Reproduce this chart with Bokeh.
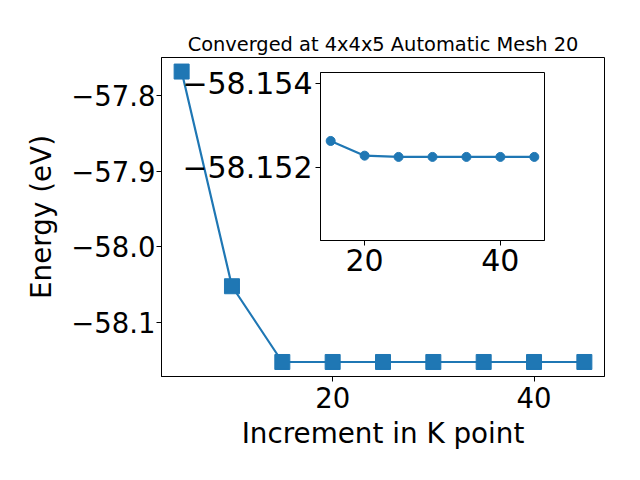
from bokeh.plotting import figure
from bokeh.models import Range1d, FixedTicker, Column
from bokeh.embed import file_html
from bokeh.resources import INLINE

# ---- data ----
kpoints = [5, 10, 15, 20, 25, 30, 35, 40, 45]
energy = [-57.768, -58.052, -58.1522, -58.1522, -58.1522, -58.1522, -58.1522, -58.1522, -58.1522]

inset_k = [15, 20, 25, 30, 35, 40, 45]
inset_energy = [-58.15262, -58.15227, -58.15224, -58.15224, -58.15224, -58.15224, -58.15224]

main_yticks = [-57.8, -57.9, -58.0, -58.1]
main_ytick_labels = ["\u221257.8", "\u221257.9", "\u221258.0", "\u221258.1"]
main_xticks = [20, 40]
inset_yticks = [-58.154, -58.152]
inset_ytick_labels = ["\u221258.154", "\u221258.152"]
inset_xticks = [20, 40]

title_text = "Converged at 4x4x5 Automatic Mesh 20"
xlabel = "Increment in K point"
ylabel = "Energy (eV)"

BLUE = "#1f77b4"
FONT = "DejaVu Sans"
LABEL_SIZE = "27.8px"


def style_axes(fig, tick_size):
    for ax in fig.xaxis + fig.yaxis:
        ax.major_label_text_font = FONT
        ax.major_label_text_font_size = tick_size
        ax.major_label_text_color = "black"
        ax.axis_label_text_font = FONT
        ax.axis_label_text_font_size = LABEL_SIZE
        ax.axis_label_text_font_style = "normal"
        ax.axis_label_text_color = "black"
        ax.major_tick_in = 0
        ax.major_tick_out = 5
        ax.minor_tick_in = 0
        ax.minor_tick_out = 0
        ax.major_tick_line_color = "black"
        ax.axis_line_color = "black"
        ax.major_label_standoff = 5
    fig.xgrid.visible = False
    fig.ygrid.visible = False
    fig.outline_line_color = "black"
    fig.outline_line_width = 1


# ---- main figure ----
p = figure(frame_width=443, frame_height=319, output_backend="svg", toolbar_location=None,
           x_range=Range1d(3, 47), y_range=Range1d(-58.1714, -57.7494),
           min_border_left=161, min_border_right=20, min_border_top=57, min_border_bottom=88)
p.line(kpoints, energy, line_color=BLUE, line_width=2.2)
p.scatter(kpoints, energy, marker="square", size=15, fill_color=BLUE, line_color=BLUE)
style_axes(p, "27.5px")
p.yaxis.ticker = FixedTicker(ticks=main_yticks)
p.yaxis.major_label_overrides = dict(zip(main_yticks, main_ytick_labels))
p.yaxis.major_label_standoff = 1
p.xaxis.ticker = FixedTicker(ticks=main_xticks)
p.xaxis.axis_label = xlabel
p.yaxis.axis_label = ylabel
p.yaxis.axis_label_standoff = 10
p.xaxis.axis_label_standoff = 6
p.title.text = title_text
p.title.text_font = FONT
p.title.text_font_size = "19.4px"
p.title.text_font_style = "normal"
p.title.text_color = "black"
p.title.align = "center"
p.title.standoff = 4

# ---- inset figure ----
inset = figure(frame_width=224, frame_height=168, output_backend="svg", toolbar_location=None,
               x_range=Range1d(13.5, 46.5), y_range=Range1d(-58.15025, -58.15425),
               min_border_left=161, min_border_right=20, min_border_top=5, min_border_bottom=45)
inset.line(inset_k, inset_energy, line_color=BLUE, line_width=2.2)
inset.scatter(inset_k, inset_energy, marker="circle", size=9, fill_color=BLUE, line_color=BLUE)
style_axes(inset, "30px")
inset.yaxis.ticker = FixedTicker(ticks=inset_yticks)
inset.yaxis.major_label_overrides = dict(zip(inset_yticks, inset_ytick_labels))
inset.yaxis.major_label_standoff = 3
inset.xaxis.major_label_standoff = 3
inset.xaxis.ticker = FixedTicker(ticks=inset_xticks)
inset.border_fill_color = None
inset.background_fill_color = "white"
inset.margin = (-397, 0, 0, 159)

layout = Column(p, inset, spacing=0)
open("out.html", "w").write(file_html(layout, INLINE))
